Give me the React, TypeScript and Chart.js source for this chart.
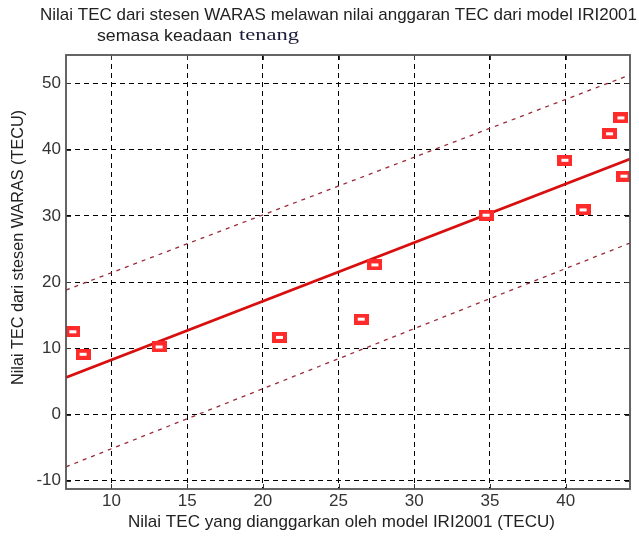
import React, { useEffect, useRef } from "react";
import { Chart, registerables } from "chart.js";

Chart.register(...registerables);

// Observed data: IRI2001 model TEC (x) vs WARAS station TEC (y)
const modelTEC = [7.45, 8.13, 13.15, 21.1, 26.5, 27.4, 34.74, 39.95, 41.15, 42.9, 43.65, 43.85];
const warasTEC = [12.5, 9.1, 10.2, 11.65, 14.4, 22.6, 30.1, 38.4, 30.9, 42.4, 44.8, 36.0];

// Fitted line and bounds (end points)
const lineX = [7, 44.25];
const fitY = [5.6, 38.6];
const upperY = [18.8, 51.3];
const lowerY = [-7.9, 25.9];

const xTicks = [10, 15, 20, 25, 30, 35, 40];
const yTicks = [-10, 0, 10, 20, 30, 40, 50];

const xRange = [7, 44.25];
const yRange = [-11.25, 54.3];

const title1 = "Nilai TEC dari stesen WARAS melawan nilai anggaran TEC dari model IRI2001";
const title2a = "semasa keadaan ";
const title2b = "tenang";
const xTitle = "Nilai TEC yang dianggarkan oleh model IRI2001 (TECU)";
const yTitle = "Nilai TEC dari stesen WARAS (TECU)";

const SANS = '"Liberation Sans", Arial, sans-serif';
const SERIF = '"Liberation Serif", "Times New Roman", serif';

function fitText(ctx: CanvasRenderingContext2D, text: string, x: number, y: number, width: number) {
  const w = ctx.measureText(text).width;
  ctx.save();
  ctx.translate(x, y);
  ctx.scale(width / w, 1);
  ctx.fillText(text, 0, 0);
  ctx.restore();
}

const decorPlugin = {
  id: "decor",
  afterDraw(chart: any) {
    const ctx = chart.ctx as CanvasRenderingContext2D;
    const { left, right, top, bottom } = chart.chartArea;
    const xs = chart.scales.x;
    const ys = chart.scales.y;
    ctx.save();
    // inward ticks
    ctx.strokeStyle = "#333";
    ctx.lineWidth = 1;
    ctx.setLineDash([]);
    ctx.beginPath();
    xTicks.forEach((v) => {
      const px = Math.round(xs.getPixelForValue(v)) + 0.5;
      ctx.moveTo(px, bottom);
      ctx.lineTo(px, bottom - 5);
      ctx.moveTo(px, top);
      ctx.lineTo(px, top + 5);
    });
    yTicks.forEach((v) => {
      const py = Math.round(ys.getPixelForValue(v)) + 0.5;
      ctx.moveTo(left, py);
      ctx.lineTo(left + 5, py);
      ctx.moveTo(right, py);
      ctx.lineTo(right - 5, py);
    });
    ctx.stroke();
    // box
    ctx.strokeStyle = "#555";
    ctx.lineWidth = 1.8;
    ctx.strokeRect(left, top, right - left, bottom - top);

    // titles
    ctx.fillStyle = "#222";
    ctx.textBaseline = "middle";
    ctx.textAlign = "left";
    ctx.font = `17px ${SANS}`;
    fitText(ctx, title1, 40, 15, 597);
    ctx.font = `17px ${SANS}`;
    fitText(ctx, title2a, 97, 36, 140);
    ctx.font = `17px ${SERIF}`;
    ctx.fillStyle = "#1a1a3a";
    fitText(ctx, title2b, 239, 36, 60);

    ctx.fillStyle = "#222";
    ctx.font = `17px ${SANS}`;
    fitText(ctx, xTitle, 128, 522, 427);

    ctx.save();
    ctx.translate(18, 385);
    ctx.rotate(-Math.PI / 2);
    fitText(ctx, yTitle, 0, 0, 275);
    ctx.restore();

    ctx.restore();
  },
};

export default function App() {
  const ref = useRef<HTMLCanvasElement | null>(null);

  useEffect(() => {
    if (!ref.current) return;
    const marker = document.createElement("canvas");
    marker.width = 15;
    marker.height = 11;
    const mc = marker.getContext("2d")!;
    mc.fillStyle = "#ff2b2b";
    mc.fillRect(0, 0, 15, 11);
    mc.fillStyle = "#ffffff";
    mc.fillRect(4, 4, 7, 3);

    const pts = modelTEC.map((x, i) => ({ x, y: warasTEC[i] }));
    const mk = (ys: number[]) => lineX.map((x, i) => ({ x, y: ys[i] }));

    const chart = new Chart(ref.current, {
      type: "scatter",
      data: {
        datasets: [
          {
            label: "data",
            data: pts,
            pointStyle: marker as any,
            pointRadius: 7,
            showLine: false,
            order: 0,
          },
          {
            label: "fit",
            data: mk(fitY),
            showLine: true,
            borderColor: "#d80f0f",
            borderWidth: 2.8,
            pointRadius: 0,
            order: 1,
          },
          {
            label: "upper",
            data: mk(upperY),
            showLine: true,
            borderColor: "#9a2a3a",
            borderWidth: 1.3,
            borderDash: [4, 5],
            pointRadius: 0,
            order: 2,
          },
          {
            label: "lower",
            data: mk(lowerY),
            showLine: true,
            borderColor: "#9a2a3a",
            borderWidth: 1.3,
            borderDash: [4, 5],
            pointRadius: 0,
            order: 3,
          },
        ],
      },
      options: {
        responsive: false,
        animation: false,
        events: [],
        layout: { padding: { top: 55, right: 9, left: 0, bottom: 0 } },
        plugins: {
          legend: { display: false },
          tooltip: { enabled: false },
          title: { display: false },
        },
        scales: {
          x: {
            type: "linear",
            min: xRange[0],
            max: xRange[1],
            afterBuildTicks: (s: any) => {
              s.ticks = xTicks.map((v) => ({ value: v }));
            },
            afterFit: (s: any) => {
              s.height = 51;
            },
            ticks: {
              font: { size: 17, family: SANS },
              color: "#333",
              padding: 2,
              maxRotation: 0,
              autoSkip: false,
            },
            grid: { color: "#000", lineWidth: 1, drawTicks: false },
            border: { display: false, dash: [5, 4] },
          },
          y: {
            type: "linear",
            min: yRange[0],
            max: yRange[1],
            afterBuildTicks: (s: any) => {
              s.ticks = yTicks.map((v) => ({ value: v }));
            },
            afterFit: (s: any) => {
              s.width = 66;
            },
            ticks: {
              font: { size: 17, family: SANS },
              color: "#333",
              padding: 5,
              autoSkip: false,
            },
            grid: { color: "#000", lineWidth: 1, drawTicks: false },
            border: { display: false, dash: [5, 4] },
          },
        },
      },
      plugins: [decorPlugin],
    });
    return () => chart.destroy();
  }, []);

  return (
    <div style={{ position: "absolute", left: 0, top: 0, width: 639, height: 540, background: "#fff" }}>
      <canvas ref={ref} width={639} height={540} />
    </div>
  );
}
